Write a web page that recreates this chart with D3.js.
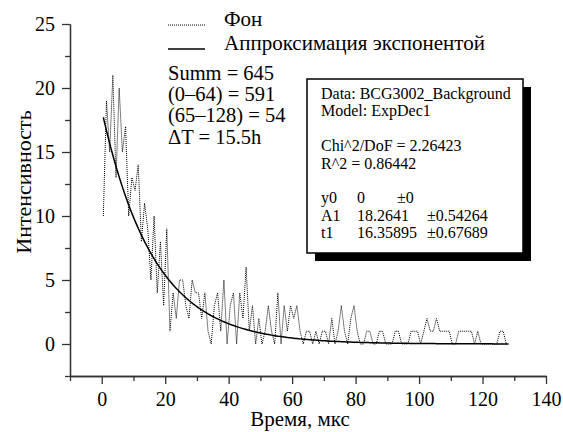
<!DOCTYPE html>
<html>
<head>
<meta charset="utf-8">
<script src="https://cdn.jsdelivr.net/npm/d3@7"></script>
<style>
  body { margin: 0; background: #fff; }
</style>
</head>
<body>
<div id="chart"></div>
<script>
// background counts per channel, 1 us per channel
var counts = [
  10, 19, 15, 21, 13, 20, 15, 17, 10, 13,
  12, 14, 8, 11, 9, 5, 10, 4, 8, 3,
  9, 1, 4, 2, 5, 5, 3, 2, 5, 4,
  4, 2, 4, 1, 0, 3, 4, 1, 5, 0,
  3, 4, 0, 4, 2, 6, 1, 3, 0, 2,
  0, 1, 3, 1, 0, 4, 0, 3, 1, 3,
  2, 3, 1, 0, 1, 1, 0, 1, 0, 1,
  1, 0, 2, 0, 1, 3, 1, 0, 2, 3,
  1, 0, 0, 1, 1, 0, 0, 1, 1, 0,
  0, 0, 1, 1, 0, 0, 0, 1, 1, 1,
  0, 1, 2, 1, 1, 2, 1, 1, 1, 1,
  0, 0, 1, 1, 1, 1, 1, 0, 1, 0,
  0, 0, 0, 0, 0, 1, 1, 0, 0
];
var times = counts.map(function (d, i) { return i + 0.5; });

// fit parameters (ExpDec1)
var fitY0 = 0, fitA1 = 18.2641, fitT1 = 16.35895;
var fitTimes = d3.range(0.5, 128.01, 0.5);

var xTicks = [0, 20, 40, 60, 80, 100, 120, 140];
var yTicks = [0, 5, 10, 15, 20, 25];

var statLines = ["Summ = 645", "(0\u201364) = 591", "(65\u2013128) = 54", "\u0394T = 15.5h"];
var boxLines = [
  ["Data: BCG3002_Background"],
  ["Model: ExpDec1"],
  [],
  ["Chi^2/DoF = 2.26423"],
  ["R^2 = 0.86442"],
  [],
  ["y0", "0", "\u00b10"],
  ["A1", "18.2641", "\u00b10.54264"],
  ["t1", "16.35895", "\u00b10.67689"]
];

var w = 563, h = 432;
var svg = d3.select("#chart").append("svg").attr("width", w).attr("height", h);

var x = d3.scaleLinear().domain([-10, 140]).range([70, 546]);
var y = d3.scaleLinear().domain([-2.5, 25]).range([376, 24]);

// axes
var xAxis = d3.axisBottom(x).tickValues(xTicks).tickSize(8).tickPadding(8).tickSizeOuter(0);
var xMinor = d3.axisBottom(x).tickValues(d3.range(-10, 140, 20)).tickSize(5).tickFormat("").tickSizeOuter(0);
var yAxis = d3.axisLeft(y).tickValues(yTicks).tickSize(8).tickPadding(7).tickSizeOuter(0);
var yMinor = d3.axisLeft(y).tickValues(d3.range(-2.5, 25, 5)).tickSize(5).tickFormat("").tickSizeOuter(0);

var gx = svg.append("g").attr("transform", "translate(0," + y(-2.5) + ")");
gx.call(xAxis);
gx.append("g").call(xMinor);
var gy = svg.append("g").attr("transform", "translate(" + x(-10) + ",0)");
gy.call(yAxis);
gy.append("g").call(yMinor);

svg.selectAll(".domain").attr("stroke", "#333").attr("stroke-width", 1.3);
svg.selectAll(".tick line").attr("stroke", "#333").attr("stroke-width", 1.3);
svg.selectAll(".tick text").attr("class", "tk").attr("fill", "#000");

// axis titles
svg.append("text").attr("class", "big").attr("x", 300).attr("y", 426).attr("text-anchor", "middle")
  .text("Время, мкс");
svg.append("text").attr("class", "ylab").attr("transform", "translate(31,182) rotate(-90)")
  .attr("text-anchor", "middle").text("Интенсивность");

// data line (dotted)
var line = d3.line().x(function (d, i) { return x(times[i]); }).y(function (d) { return y(d); });
svg.append("path").datum(counts).attr("d", line)
  .attr("fill", "none").attr("stroke", "#000").attr("stroke-width", 1)
  .attr("stroke-dasharray", "1,1");

// fit line
var fitLine = d3.line()
  .x(function (t) { return x(t); })
  .y(function (t) { return y(fitY0 + fitA1 * Math.exp(-t / fitT1)); });
svg.append("path").datum(fitTimes).attr("d", fitLine)
  .attr("fill", "none").attr("stroke", "#000").attr("stroke-width", 1.5);

// legend
svg.append("line").attr("x1", 168).attr("x2", 205).attr("y1", 25).attr("y2", 25)
  .attr("stroke", "#000").attr("stroke-width", 1).attr("stroke-dasharray", "1,1");
svg.append("line").attr("x1", 168).attr("x2", 205).attr("y1", 49).attr("y2", 49)
  .attr("stroke", "#000").attr("stroke-width", 1.5);
svg.append("text").attr("class", "big").attr("x", 224).attr("y", 26).text("Фон");
svg.append("text").attr("class", "big").attr("x", 224).attr("y", 50).text("Аппроксимация экспонентой");

// stats
svg.selectAll(".stat").data(statLines).enter().append("text")
  .attr("class", "stat")
  .attr("x", 168)
  .attr("y", function (d, i) { return 80 + i * 21.2; })
  .text(function (d) { return d; });

// fit box with shadow
var bx = 307, by = 79, bw = 216, bh = 174;
svg.append("rect").attr("x", bx + 8).attr("y", by + 8).attr("width", bw).attr("height", bh).attr("fill", "#000");
svg.append("rect").attr("x", bx).attr("y", by).attr("width", bw).attr("height", bh)
  .attr("fill", "#fff").attr("stroke", "#000").attr("stroke-width", 1.5);

var colX = [321, 357, 397];
boxLines.forEach(function (row, i) {
  row.forEach(function (s, j) {
    var cx = colX[j];
    if (j == 2 && i > 6) cx = 427;
    svg.append("text").attr("class", "small").attr("x", cx).attr("y", 99 + i * 17.4).text(s);
  });
});

svg.selectAll("g").attr("font-family", null).attr("font-size", null);
svg.selectAll("text.tk").style("font", "20px 'Liberation Serif', serif");
svg.selectAll("text.big").style("font", "21px 'Liberation Serif', serif");
svg.selectAll("text.stat").style("font", "20.5px 'Liberation Serif', serif");
svg.selectAll("text.ylab").style("font", "22px 'Liberation Serif', serif");
svg.selectAll("text.small").style("font", "16px 'Liberation Serif', serif");
</script>
</body>
</html>
